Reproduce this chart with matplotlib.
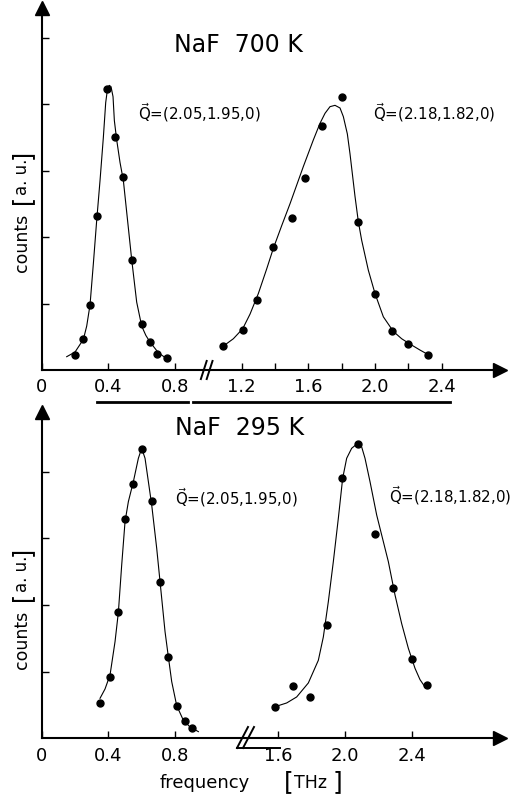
import matplotlib.pyplot as plt
from matplotlib.lines import Line2D

plt.rcParams['font.family'] = ['Liberation Sans Narrow', 'DejaVu Sans']
plt.rcParams['mathtext.fontset'] = 'custom'
plt.rcParams['mathtext.rm'] = 'Liberation Sans Narrow'

W, H = 518, 799

# NaF 700 K, Q = (2.05, 1.95, 0): measured points and fitted line
HOT_A_X = [0.20, 0.25, 0.29, 0.33, 0.39, 0.44, 0.49, 0.54, 0.60, 0.65, 0.69, 0.75]
HOT_A_Y = [0.23, 0.46, 0.98, 2.32, 4.22, 3.50, 2.90, 1.66, 0.69, 0.42, 0.24, 0.18]
HOT_A_FIT_X = [0.15, 0.20, 0.25, 0.27, 0.29, 0.31, 0.33, 0.35, 0.37, 0.384, 0.396, 0.406,
               0.416, 0.428, 0.436, 0.45, 0.47, 0.49, 0.54, 0.57, 0.60, 0.625, 0.65,
               0.70, 0.75]
HOT_A_FIT_Y = [0.20, 0.27, 0.46, 0.66, 0.98, 1.60, 2.25, 2.85, 3.50, 4.02, 4.25, 4.28,
               4.26, 4.11, 3.75, 3.46, 3.12, 2.85, 1.66, 1.02, 0.66, 0.52, 0.42,
               0.26, 0.17]

# NaF 700 K, Q = (2.18, 1.82, 0)
HOT_B_X = [1.09, 1.21, 1.29, 1.39, 1.50, 1.58, 1.68, 1.80, 1.90, 2.00, 2.10, 2.20, 2.32]
HOT_B_Y = [0.36, 0.60, 1.05, 1.85, 2.28, 2.88, 3.67, 4.10, 2.23, 1.14, 0.59, 0.39, 0.22]
HOT_B_FIT_X = [1.09, 1.15, 1.206, 1.25, 1.30, 1.35, 1.39, 1.44, 1.49, 1.57, 1.63, 1.67,
               1.70, 1.73, 1.76, 1.79, 1.81, 1.834, 1.85, 1.88, 1.90, 1.92, 1.96, 2.00,
               2.05, 2.11, 2.16, 2.21, 2.27, 2.32]
HOT_B_FIT_Y = [0.36, 0.47, 0.62, 0.84, 1.15, 1.52, 1.83, 2.17, 2.50, 3.06, 3.46, 3.71,
               3.86, 3.96, 3.98, 3.94, 3.81, 3.55, 3.25, 2.61, 2.23, 1.95, 1.50, 1.15,
               0.80, 0.58, 0.47, 0.39, 0.30, 0.23]

# NaF 295 K, Q = (2.05, 1.95, 0)
COLD_A_X = [0.35, 0.41, 0.46, 0.50, 0.55, 0.60, 0.66, 0.71, 0.76, 0.81, 0.86, 0.90]
COLD_A_Y = [0.525, 0.92, 1.89, 3.29, 3.81, 4.34, 3.56, 2.35, 1.22, 0.49, 0.26, 0.15]
COLD_A_FIT_X = [0.35, 0.38, 0.41, 0.44, 0.46, 0.48, 0.50, 0.52, 0.55, 0.58, 0.60, 0.62,
                0.64, 0.66, 0.69, 0.71, 0.74, 0.76, 0.78, 0.81, 0.85, 0.89, 0.94]
COLD_A_FIT_Y = [0.60, 0.74, 0.95, 1.45, 1.89, 2.60, 3.25, 3.55, 3.85, 4.20, 4.35, 4.20,
                3.85, 3.50, 2.85, 2.35, 1.60, 1.22, 0.85, 0.49, 0.27, 0.17, 0.10]

# NaF 295 K, Q = (2.18, 1.82, 0)
COLD_B_X = [1.58, 1.69, 1.79, 1.89, 1.98, 2.08, 2.18, 2.29, 2.40, 2.49]
COLD_B_Y = [0.475, 0.785, 0.62, 1.70, 3.91, 4.42, 3.07, 2.25, 1.19, 0.80]
COLD_B_FIT_X = [1.60, 1.65, 1.71, 1.78, 1.84, 1.87, 1.90, 1.93, 1.96, 1.986, 2.01, 2.04,
                2.074, 2.10, 2.12, 2.15, 2.19, 2.23, 2.26, 2.30, 2.34, 2.38, 2.42,
                2.45, 2.48]
COLD_B_FIT_Y = [0.49, 0.53, 0.62, 0.83, 1.17, 1.52, 2.05, 2.65, 3.30, 3.90, 4.20, 4.35,
                4.42, 4.37, 4.20, 3.85, 3.35, 2.95, 2.65, 2.15, 1.72, 1.35, 1.05,
                0.88, 0.77]

TOP_TICKS = [0, 0.4, 0.8, 1.2, 1.6, 2.0, 2.4]
TOP_MINOR = [1.4, 1.8, 2.2]
LEFT_TICKS = [0, 0.4, 0.8]
RIGHT_TICKS = [1.6, 2.0, 2.4]
Q_A = r'$\vec{\mathrm{Q}}$=(2.05,1.95,0)'
Q_B = r'$\vec{\mathrm{Q}}$=(2.18,1.82,0)'


def rect(x0, y0, x1, y1):
    # pixel box -> figure fraction
    return [x0 / W, 1 - y1 / H, (x1 - x0) / W, (y1 - y0) / H]


def fxy(x, y):
    return x / W, 1 - y / H


def style(ax, left=True, arrow_x=True):
    for s in ['top', 'right']:
        ax.spines[s].set_visible(False)
    ax.spines['bottom'].set_linewidth(1.5)
    ax.spines['left'].set_linewidth(1.5)
    if not left:
        ax.spines['left'].set_visible(False)
        ax.tick_params(axis='y', left=False, labelleft=False)
    ax.tick_params(direction='in', length=5, width=1, labelsize=13, pad=6)
    ax.tick_params(axis='y', labelleft=False)
    if left:
        ax.plot(0, 1, marker='^', color='k', ms=10, transform=ax.transAxes, clip_on=False)
    if arrow_x:
        ax.plot(1, 0, marker='>', color='k', ms=10, transform=ax.transAxes, clip_on=False)


def peak(ax, x, y, fx, fy):
    ax.plot(fx, fy, color='k', lw=0.8)
    ax.plot(x, y, 'o', color='k', ms=5)


def ylabel(cy):
    # "counts [a. u.]" reading upward, big brackets
    fig.text(*fxy(22, cy + 33), 'counts', rotation=90, ha='center', va='center',
             fontsize=12.5, family='DejaVu Sans')
    fig.text(*fxy(22, cy - 11), '[', rotation=90, ha='center', va='center', fontsize=17)
    fig.text(*fxy(22, cy - 33), 'a. u.', rotation=90, ha='center', va='center',
             fontsize=12, family='DejaVu Sans')
    fig.text(*fxy(22, cy - 56), ']', rotation=90, ha='center', va='center', fontsize=17)


fig = plt.figure(figsize=(W / 100, H / 100), dpi=100)

# ---- top panel: 700 K ----
ax1 = fig.add_axes(rect(41.7, 8, 500, 370))
ax1.set_xlim(0, 2.75)
ax1.set_ylim(0, 362 / 66.5)
style(ax1)
ax1.set_xticks(TOP_TICKS)
ax1.set_xticklabels(['0' if t == 0 else f'{t:.1f}' for t in TOP_TICKS])
ax1.set_xticks(TOP_MINOR, minor=True)
ax1.tick_params(which='minor', direction='in', length=5, width=1)
ax1.set_yticks([1, 2, 3, 4, 5])
peak(ax1, HOT_A_X, HOT_A_Y, HOT_A_FIT_X, HOT_A_FIT_Y)
peak(ax1, HOT_B_X, HOT_B_Y, HOT_B_FIT_X, HOT_B_FIT_Y)
# break marks on the axis
tr = ax1.get_xaxis_transform()
for dx in (0.0, 0.035):
    ax1.plot([0.955 + dx, 0.99 + dx], [-0.025, 0.025], color='k', lw=1.4,
             transform=tr, clip_on=False)
# bars under the tick labels
ax1.plot([0.33, 0.878], [-0.088, -0.088], color='k', lw=2, transform=tr, clip_on=False)
ax1.plot([0.908, 2.45], [-0.088, -0.088], color='k', lw=2, transform=tr, clip_on=False)

fig.text(*fxy(238, 45), 'NaF  700 K', ha='center', va='center', fontsize=17,
         family='DejaVu Sans')
fig.text(*fxy(138, 113), Q_A, ha='left', va='center', fontsize=10.8)
fig.text(*fxy(373, 113), Q_B, ha='left', va='center', fontsize=10.8)
ylabel(210)

# ---- bottom panel: 295 K, broken frequency axis ----
ax2 = fig.add_axes(rect(41.7, 412, 245, 738.3))
ax2.set_xlim(0, 203.3 / 166.67)
ax2.set_ylim(0, 326.3 / 66.67)
style(ax2, arrow_x=False)
ax2.set_xticks(LEFT_TICKS)
ax2.set_xticklabels(['0', '0.4', '0.8'])
ax2.set_yticks([1, 2, 3, 4])
peak(ax2, COLD_A_X, COLD_A_Y, COLD_A_FIT_X, COLD_A_FIT_Y)

ax3 = fig.add_axes(rect(245, 412, 500, 738.3))
ax3.set_xlim(1.40, 1.40 + 255 / 166.67)
ax3.set_ylim(0, 326.3 / 66.67)
style(ax3, left=False)
ax3.set_xticks(RIGHT_TICKS)
ax3.set_xticklabels(['1.6', '2.0', '2.4'])
peak(ax3, COLD_B_X, COLD_B_Y, COLD_B_FIT_X, COLD_B_FIT_Y)

fig.add_artist(Line2D([237 / W, 248 / W], [1 - 748 / H, 1 - 727 / H], color='k', lw=1.4))
fig.add_artist(Line2D([243 / W, 254 / W], [1 - 748 / H, 1 - 727 / H], color='k', lw=1.4))
fig.add_artist(Line2D([237 / W, 280 / W], [1 - 748 / H, 1 - 748 / H], color='k', lw=1.4))

fig.text(*fxy(240, 428), 'NaF  295 K', ha='center', va='center', fontsize=17,
         family='DejaVu Sans')
fig.text(*fxy(175, 498), Q_A, ha='left', va='center', fontsize=10.8)
fig.text(*fxy(389, 496), Q_B, ha='left', va='center', fontsize=10.8)
ylabel(607)

fig.text(*fxy(205, 783), 'frequency', ha='center', va='center', fontsize=13,
         family='DejaVu Sans')
fig.text(*fxy(289, 782), '[', ha='center', va='center', fontsize=18)
fig.text(*fxy(311, 783), 'THz', ha='center', va='center', fontsize=12.5,
         family='DejaVu Sans')
fig.text(*fxy(337, 782), ']', ha='center', va='center', fontsize=18)

fig.savefig('out.png', dpi=100)
